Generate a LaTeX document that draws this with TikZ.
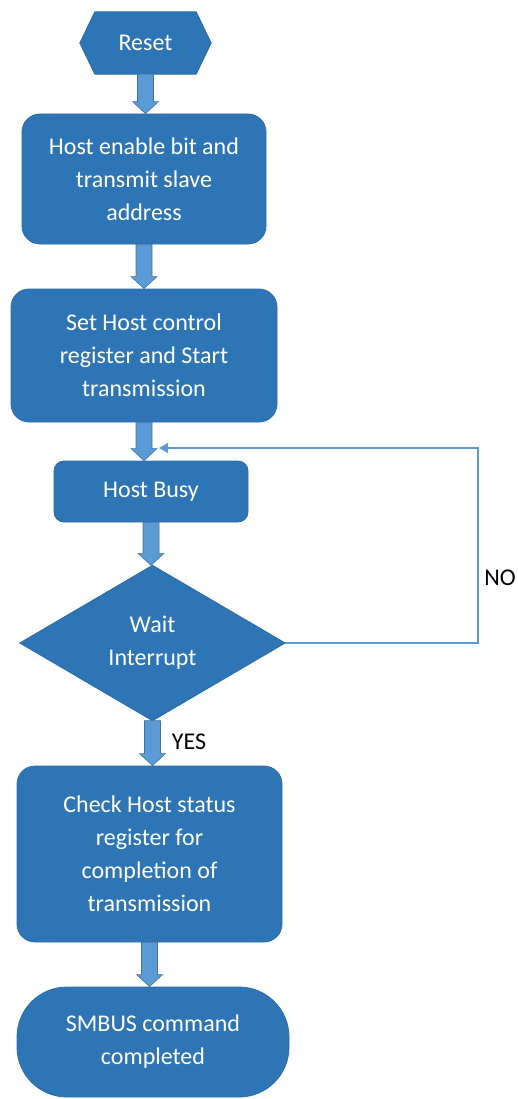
\documentclass[tikz,border=0pt]{standalone}
\usepackage{fontspec}
\setmainfont{Carlito}
\usetikzlibrary{calc,arrows.meta,backgrounds}
\definecolor{boxblue}{HTML}{2E75B6}
\definecolor{boxedge}{HTML}{2B6BA8}
\definecolor{arrowblue}{HTML}{5B9BD5}
\definecolor{arrowedge}{HTML}{41719C}
\newcommand\blockarrow[2]{%
  \path let \p1=(#1.south), \p2=(#2.north) in
    [draw=arrowedge, fill=arrowblue, line width=0.6pt, line join=miter]
    (\x1-8pt,\y1) -- (\x1+8pt,\y1) -- (\x1+8pt,\y2+12pt) -- (\x1+13pt,\y2+12pt)
    -- (\x1,\y2) -- (\x1-13pt,\y2+12pt) -- (\x1-8pt,\y2+12pt) -- cycle;}
\begin{document}
\begin{tikzpicture}[x=1pt,y=-1pt,
  txt/.style={text=white, align=center, font=\fontsize{24}{33}\selectfont, inner sep=0pt},
  box/.style={txt, fill=boxblue, draw=boxedge, line width=0.8pt, rounded corners=18pt},
  shapefill/.style={fill=boxblue, draw=boxedge, line width=0.8pt, line join=miter},
  lbl/.style={text=black, font=\fontsize{24}{30}\selectfont, inner sep=0pt},
  loopline/.style={draw=arrowblue, line width=1.3pt, -{Triangle[length=9pt,width=10pt]}}
]
\useasboundingbox (0,0) rectangle (517,1099);

% Reset hexagon
\node[txt, minimum width=131pt, minimum height=62pt] (reset) at (145.5,43) {Reset};
\begin{scope}[on background layer]
\path[shapefill] (reset.west) -- ($(reset.north west)+(15,0)$) -- ($(reset.north east)+(-15,0)$)
  -- (reset.east) -- ($(reset.south east)+(-15,0)$) -- ($(reset.south west)+(15,0)$) -- cycle;
\end{scope}

\node[box, minimum width=244pt, minimum height=130pt] (enable) at (144,179)
  {Host enable bit and\\transmit slave\\address};
\node[box, minimum width=266pt, minimum height=133pt] (setctl) at (144,355.5)
  {Set Host control\\register and Start\\transmission};
\node[box, rounded corners=10pt, minimum width=194pt, minimum height=61pt] (busy) at (151,491.5)
  {Host Busy};

% Diamond
\node[txt, minimum width=265pt, minimum height=155pt] (wait) at (152.5,643)
  {Wait\\Interrupt};
\begin{scope}[on background layer]
\path[shapefill] (wait.north) -- (wait.east) -- (wait.south) -- (wait.west) -- cycle;
\end{scope}

\node[box, minimum width=265pt, minimum height=176pt] (check) at (149.5,854)
  {Check Host status\\register for\\completion of\\transmission};
\node[box, rounded corners=50pt, minimum width=272pt, minimum height=110pt] (done) at (153,1042)
  {SMBUS command\\completed};

% Block arrows
\blockarrow{reset}{enable}
\blockarrow{enable}{setctl}
\blockarrow{setctl}{busy}
\blockarrow{busy}{wait}
\blockarrow{wait}{check}
\blockarrow{check}{done}

% Loop back
\coordinate (loopcorner) at (478,448);
\coordinate (loopend) at (159,448);
\draw[loopline] (wait.east) -| (loopcorner) -- (loopend);

\node[lbl] (no) at (500,578) {NO};
\node[lbl] (yes) at (189,742) {YES};
\end{tikzpicture}
\end{document}
